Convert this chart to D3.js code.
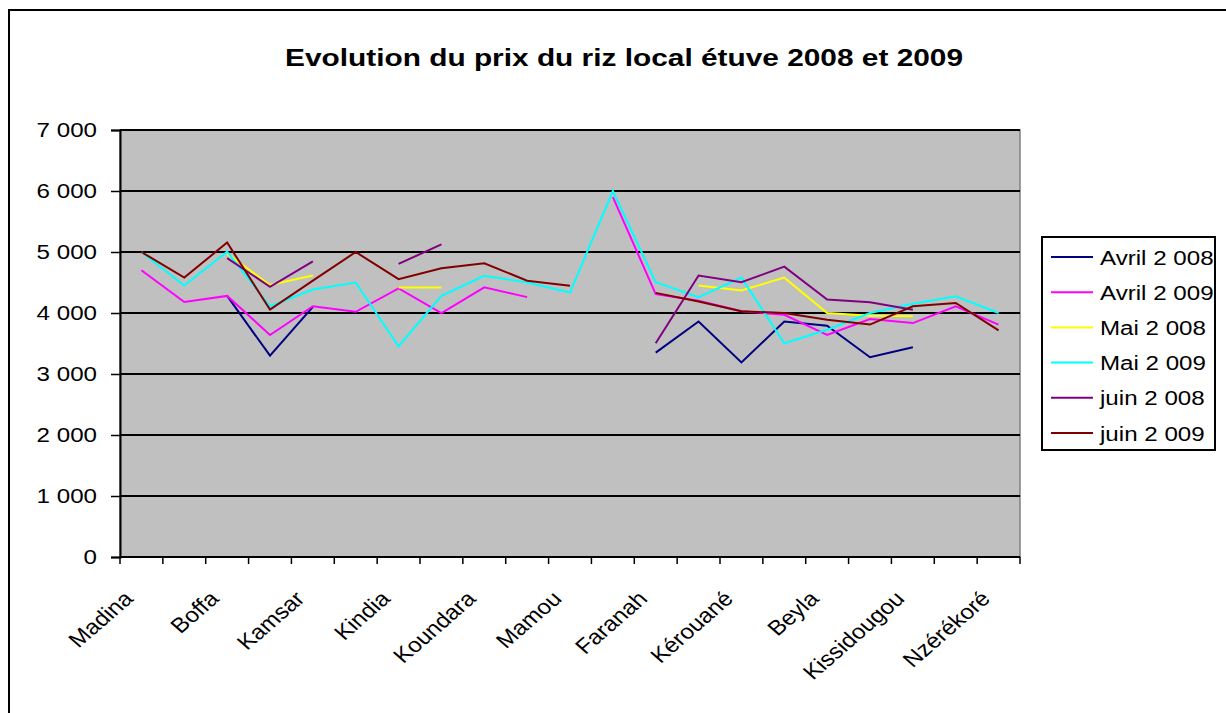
<!DOCTYPE html>
<html>
<head>
<meta charset="utf-8">
<script src="https://cdn.jsdelivr.net/npm/d3@7"></script>
<style>
  body { margin: 0; background: #fff; }
  text { font-family: "Liberation Sans", Arial, sans-serif; fill: #000; }
</style>
</head>
<body>
<svg width="1226" height="713"></svg>
<script>
// categories (only every other one gets a label, like the original)
const categories = ["Madina", "Dubréka", "Boffa", "Boké", "Kamsar", "Forécariah", "Kindia", "Labé",
  "Koundara", "Pita", "Mamou", "Dabola", "Faranah", "Kankan", "Kérouané", "Macenta",
  "Beyla", "Guéckédou", "Kissidougou", "Lola", "Nzérékoré"];

const avril2008 = [null, null, 4280, 3300, 4100, null, null, null, null, null, null, null, 3350, 3860, 3190, 3860, 3790, 3275, 3440, null, null];
const avril2009 = [4700, 4180, 4280, 3640, 4110, 4020, 4405, 4000, 4420, 4260, null, 5900, 4310, 4200, 4030, 3970, 3640, 3900, 3835, 4110, 3810];
const mai2008 = [null, null, 4970, 4460, 4615, null, 4417, 4417, null, null, null, null, null, 4450, 4370, 4580, 4000, 3955, 3945, null, null];
const mai2009 = [5000, 4450, 5005, 4110, 4385, 4500, 3455, 4280, 4610, 4500, 4335, 6000, 4505, 4260, 4580, 3505, 3725, 4000, 4150, 4275, 4000];
const juin2008 = [null, null, 4900, 4430, 4845, null, 4805, 5125, null, null, null, null, 3505, 4615, 4505, 4760, 4220, 4175, 4055, null, null];
const juin2009 = [5000, 4580, 5155, 4055, 4530, 5000, 4555, 4735, 4815, 4530, 4445, null, 4330, 4190, 4030, 4000, 3890, 3810, 4110, 4165, 3715];

const seriesNames = ["Avril 2 008", "Avril 2 009", "Mai 2 008", "Mai 2 009", "juin 2 008", "juin 2 009"];
const seriesColors = ["#000080", "#ff00ff", "#ffff00", "#00ffff", "#800080", "#800000"];
const yTicks = [0, 1000, 2000, 3000, 4000, 5000, 6000, 7000];

const series = [avril2008, avril2009, mai2008, mai2009, juin2008, juin2009].map((vals, i) => ({
  name: seriesNames[i], color: seriesColors[i], values: vals
}));

const svg = d3.select("svg");
const plotL = 120, plotR = 1020, plotT = 130, plotB = 557;
const stretch = 1.15; // the original picture is a bit wider than tall

// outer chart border (runs off the picture at right and bottom)
svg.append("rect")
  .attr("x", 9).attr("y", 10).attr("width", 1240).attr("height", 720)
  .attr("fill", "#fff").attr("stroke", "#000").attr("stroke-width", 2);

svg.append("text")
  .attr("x", 624).attr("y", 66)
  .attr("text-anchor", "middle")
  .attr("font-size", 24).attr("font-weight", "bold")
  .attr("textLength", 678).attr("lengthAdjust", "spacingAndGlyphs")
  .text("Evolution du prix du riz local étuve 2008 et 2009");

const x = d3.scaleBand().domain(categories).range([plotL, plotR]).padding(0);
const y = d3.scaleLinear().domain([0, 7000]).range([plotB, plotT]);
const cx = c => x(c) + x.bandwidth() / 2;

// plot area
svg.append("rect")
  .attr("x", plotL).attr("y", plotT).attr("width", plotR - plotL).attr("height", plotB - plotT)
  .attr("fill", "#c0c0c0").attr("stroke", "#808080").attr("stroke-width", 1.5);

// gridlines
svg.append("g").selectAll("line")
  .data(yTicks.filter(d => d > 0))
  .join("line")
  .attr("x1", plotL).attr("x2", plotR)
  .attr("y1", d => y(d)).attr("y2", d => y(d))
  .attr("stroke", "#000").attr("stroke-width", 2);

// y axis
const fmt = d => d3.format(",")(d).replace(/,/g, " ");
const yAxis = svg.append("g")
  .attr("transform", `translate(${plotL},0)`)
  .call(d3.axisLeft(y).tickValues(yTicks).tickFormat(fmt).tickSize(9).tickPadding(14));
yAxis.select(".domain").attr("stroke", "#000").attr("stroke-width", 2);
yAxis.selectAll(".tick line").attr("stroke", "#000").attr("stroke-width", 1.5);
yAxis.selectAll("text")
  .attr("font-size", 21).attr("font-family", "Liberation Sans, Arial, sans-serif").attr("fill", "#000")
  .attr("x", -23 / stretch)
  .attr("transform", `scale(${stretch},1)`);

// x axis: ticks between categories
const boundaries = d3.range(categories.length + 1).map(i => plotL + i * x.bandwidth());
svg.append("line")
  .attr("x1", plotL).attr("x2", plotR).attr("y1", plotB).attr("y2", plotB)
  .attr("stroke", "#000").attr("stroke-width", 2);
svg.append("g").selectAll("line")
  .data(boundaries)
  .join("line")
  .attr("x1", d => d).attr("x2", d => d)
  .attr("y1", plotB).attr("y2", plotB + 7)
  .attr("stroke", "#000").attr("stroke-width", 1.5);

svg.append("g").selectAll("text")
  .data(categories.filter((c, i) => i % 2 === 0))
  .join("text")
  .attr("transform", d => `translate(${cx(d) - 7},${plotB + 43}) scale(${stretch},1) rotate(-45)`)
  .attr("text-anchor", "end")
  .attr("font-size", 21)
  .text(d => d);

// lines
const line = d3.line()
  .defined(d => d.v != null)
  .x(d => cx(d.c))
  .y(d => y(d.v));

svg.append("g").selectAll("path")
  .data(series)
  .join("path")
  .attr("fill", "none")
  .attr("stroke", d => d.color)
  .attr("stroke-width", 2)
  .attr("d", d => line(d.values.map((v, i) => ({ c: categories[i], v }))));

// legend
const lg = svg.append("g");
lg.append("rect")
  .attr("x", 1042).attr("y", 237).attr("width", 173).attr("height", 213)
  .attr("fill", "#fff").attr("stroke", "#000").attr("stroke-width", 2);
const item = lg.selectAll("g.item")
  .data(series)
  .join("g").attr("class", "item")
  .attr("transform", (d, i) => `translate(1051,${257 + i * 35.2})`);
item.append("line")
  .attr("x1", 0).attr("x2", 42).attr("y1", 0).attr("y2", 0)
  .attr("stroke", d => d.color).attr("stroke-width", 2);
item.append("text")
  .attr("transform", `translate(49,0) scale(${stretch},1)`)
  .attr("dy", "0.36em")
  .attr("font-size", 21)
  .text(d => d.name);
</script>
</body>
</html>
